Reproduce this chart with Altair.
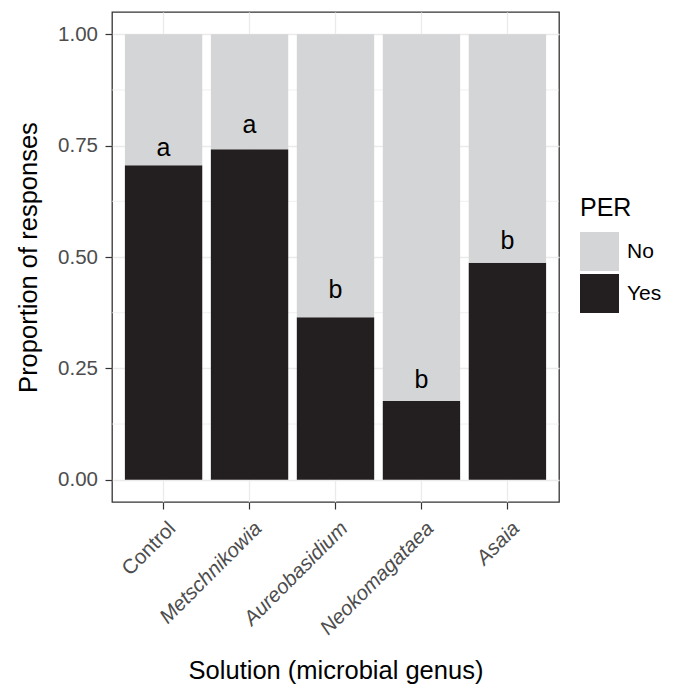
import altair as alt
import pandas as pd

# ---- data ----
genera = ["Control", "Metschnikowia", "Aureobasidium", "Neokomagataea", "Asaia"]
yes_prop = [0.706, 0.742, 0.365, 0.177, 0.487]
per_levels = ["No", "Yes"]
per_colors = ["#D4D5D7", "#231F20"]
letters = ["a", "a", "b", "b", "b"]
letter_y = [0.726, 0.778, 0.408, 0.206, 0.518]
y_ticks = [0.0, 0.25, 0.5, 0.75, 1.0]
y_minor = [0.125, 0.375, 0.625, 0.875]

rows = []
for g, p in zip(genera, yes_prop):
    rows.append({"Solution": g, "PER": "Yes", "value": p, "ord": 0})
    rows.append({"Solution": g, "PER": "No", "value": round(1 - p, 3), "ord": 1})
bars_df = pd.DataFrame(rows)
text_df = pd.DataFrame({"Solution": genera, "letter": letters, "label_y": letter_y})
minor_df = pd.DataFrame({"minor": y_minor})

FONT = "Liberation Sans"

x_scale = alt.Scale(domain=genera, paddingInner=0.1, paddingOuter=0.15)
y_scale = alt.Scale(domain=[-0.05, 1.05], nice=False, zero=False)

x_axis = alt.Axis(
    title="Solution (microbial genus)",
    labelAngle=315, labelAlign="right", labelBaseline="middle",
    labelOffset=9, labelPadding=16, tickSize=7, bandPosition=0.5,
    grid=True,
    labelFontStyle={"condition": {"test": "datum.value == 'Control'", "value": "normal"}, "value": "italic"},
    titleX=223.5, titleY=176, titleBaseline="alphabetic", titleAlign="center",
)
y_axis = alt.Axis(
    title="Proportion of responses", values=y_ticks, format=".2f",
    tickSize=7, labelPadding=7.5, grid=True,
    titleAngle=270, titleX=-76, titleY=245, titleBaseline="alphabetic", titleAlign="center",
)

minor = alt.Chart(minor_df).mark_rule(color="#EBEBEB", strokeWidth=0.7).encode(
    y=alt.Y("minor:Q", scale=y_scale, axis=y_axis)
)

bars = alt.Chart(bars_df).mark_bar().encode(
    x=alt.X("Solution:N", scale=x_scale, axis=x_axis, sort=genera),
    y=alt.Y("value:Q", stack="zero", scale=y_scale, axis=y_axis),
    color=alt.Color(
        "PER:N",
        scale=alt.Scale(domain=per_levels, range=per_colors),
        legend=alt.Legend(
            title="PER", orient="none", legendX=468, legendY=184,
            titleFontSize=25, titleFont=FONT, titleColor="#000000", titleFontWeight="normal",
            labelFontSize=21, labelFont=FONT, labelColor="#000000",
            symbolType="square", symbolSize=1521, symbolStrokeWidth=0,
            labelOffset=8, rowPadding=3, titlePadding=11, padding=0,
        ),
    ),
    order=alt.Order("ord:Q"),
)

text = alt.Chart(text_df).mark_text(
    font=FONT, fontSize=25, baseline="alphabetic", align="center", color="#000000"
).encode(
    x=alt.X("Solution:N", scale=x_scale, axis=x_axis, sort=genera),
    y=alt.Y("label_y:Q", scale=y_scale, axis=y_axis),
    text="letter:N",
)

chart = alt.layer(minor, bars, text).properties(
    width=447, height=490,
    autosize="none",
    padding={"left": 104, "top": 4, "right": 110, "bottom": 184},
).configure(
    background="white",
).configure_axis(
    labelFont=FONT, labelFontSize=20.5, labelColor="#4D4D4D",
    titleFont=FONT, titleFontSize=25.5, titleColor="#000000", titleFontWeight="normal",
    tickColor="#333333", tickWidth=1.2,
    gridColor="#EBEBEB", gridWidth=1.3,
    domain=False,
).configure_view(
    stroke="#333333", strokeWidth=1.3,
)

chart.save("out.html", embed_options={"renderer": "svg", "actions": False})
